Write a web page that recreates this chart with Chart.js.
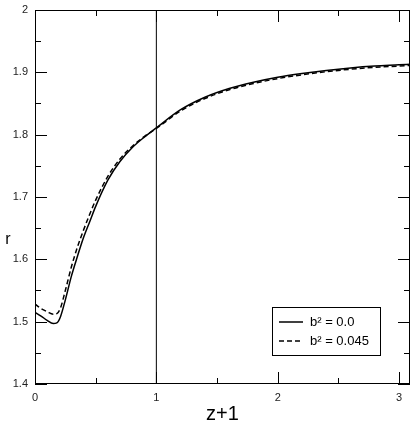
<!DOCTYPE html>
<html>
<head>
<meta charset="utf-8">
<script src="https://cdn.jsdelivr.net/npm/chart.js@4"></script>
<style>
  html, body { margin: 0; padding: 0; background: #fff; }
  #wrap { width: 414px; height: 427px; position: relative; }
</style>
</head>
<body>
<div id="wrap"><canvas id="rChart" width="414" height="427"></canvas></div>
<script>
const xVals = [0, 0.05, 0.1, 0.15, 0.18, 0.21, 0.25, 0.3, 0.35, 0.4, 0.45, 0.5, 0.6, 0.7, 0.8, 0.9, 1.0, 1.2, 1.4, 1.6, 1.8, 2.0, 2.2, 2.4, 2.6, 2.8, 3.0, 3.09];
const rSolid = [1.515, 1.509, 1.502, 1.497, 1.498, 1.508, 1.535, 1.573, 1.605, 1.635, 1.66, 1.685, 1.727, 1.757, 1.779, 1.796, 1.811, 1.840, 1.860, 1.874, 1.884, 1.892, 1.898, 1.903, 1.907, 1.910, 1.912, 1.913];
const rDashed = [1.528, 1.521, 1.516, 1.512, 1.513, 1.522, 1.55, 1.588, 1.62, 1.647, 1.672, 1.695, 1.733, 1.761, 1.781, 1.797, 1.810, 1.838, 1.858, 1.872, 1.882, 1.890, 1.896, 1.901, 1.905, 1.908, 1.910, 1.911];
const refLineX = [1];
const xTicks = [0, 1, 2, 3];
const xTickLabels = ["0", "1", "2", "3"];
const yTicks = [1.4, 1.5, 1.6, 1.7, 1.8, 1.9, 2.0];
const yTickLabels = ["1.4", "1.5", "1.6", "1.7", "1.8", "1.9", "2"];
const xMinor = [0.5, 1.5, 2.5];
const yMinor = [1.45, 1.55, 1.65, 1.75, 1.85, 1.95];
const seriesNames = ["b² = 0.0", "b² = 0.045"];

const font = "'Liberation Sans', Arial, sans-serif";

function toPoints(ys) {
  return xVals.map((x, i) => ({ x: x, y: ys[i] }));
}

// frame, inward ticks, axis titles and the boxed legend
const framePlugin = {
  id: "frame",
  afterDraw(chart) {
    const ctx = chart.ctx;
    const a = chart.chartArea;
    const xs = chart.scales.x, ys = chart.scales.y;
    ctx.save();
    ctx.strokeStyle = "#000";
    ctx.lineWidth = 1;
    ctx.strokeRect(a.left + 0.5, a.top + 0.5, a.right - a.left - 1, a.bottom - a.top - 1);

    ctx.beginPath();
    const tick = (vals, len) => {
      vals.forEach(v => {
        const px = Math.round(xs.getPixelForValue(v)) + 0.5;
        ctx.moveTo(px, a.bottom); ctx.lineTo(px, a.bottom - len);
        ctx.moveTo(px, a.top); ctx.lineTo(px, a.top + len);
      });
    };
    const ytick = (vals, len) => {
      vals.forEach(v => {
        const py = Math.round(ys.getPixelForValue(v)) + 0.5;
        ctx.moveTo(a.left, py); ctx.lineTo(a.left + len, py);
        ctx.moveTo(a.right, py); ctx.lineTo(a.right - len, py);
      });
    };
    tick(xTicks, 12);
    tick(xMinor, 6);
    ytick(yTicks, 12);
    ytick(yMinor, 6);
    ctx.stroke();

    // axis titles
    ctx.fillStyle = "#000";
    ctx.font = "20px " + font;
    ctx.textAlign = "center";
    ctx.textBaseline = "middle";
    ctx.fillText("z+1", (a.left + a.right) / 2, 414);
    ctx.font = "16px " + font;
    ctx.fillText("r", 8, 240);

    // legend
    const lx = 272.5, ly = 307.5, lw = 108, lh = 48;
    ctx.fillStyle = "#fff";
    ctx.fillRect(lx, ly, lw, lh);
    ctx.strokeRect(lx, ly, lw, lh);
    ctx.lineWidth = 1.5;
    ctx.beginPath();
    ctx.moveTo(279, 322); ctx.lineTo(303, 322);
    ctx.stroke();
    ctx.setLineDash([5, 3]);
    ctx.beginPath();
    ctx.moveTo(279, 341); ctx.lineTo(303, 341);
    ctx.stroke();
    ctx.setLineDash([]);
    ctx.fillStyle = "#000";
    ctx.font = "13px " + font;
    ctx.textAlign = "left";
    ctx.fillText(seriesNames[0], 310, 322);
    ctx.fillText(seriesNames[1], 310, 341);
    ctx.restore();
  }
};

new Chart(document.getElementById("rChart"), {
  type: "line",
  data: {
    datasets: [
      {
        data: toPoints(rSolid),
        borderColor: "#000",
        borderWidth: 1.5,
        pointRadius: 0,
        cubicInterpolationMode: "monotone"
      },
      {
        data: toPoints(rDashed),
        borderColor: "#000",
        borderWidth: 1.5,
        borderDash: [5, 3],
        pointRadius: 0,
        cubicInterpolationMode: "monotone"
      },
      {
        data: [{ x: refLineX[0], y: yTicks[0] }, { x: refLineX[0], y: yTicks[yTicks.length - 1] }],
        borderColor: "#000",
        borderWidth: 1,
        pointRadius: 0
      }
    ]
  },
  options: {
    responsive: false,
    animation: false,
    layout: { padding: { top: 10, right: 4, left: 0, bottom: 0 } },
    plugins: { legend: { display: false }, tooltip: { enabled: false } },
    scales: {
      x: {
        type: "linear",
        min: 0,
        max: 3.09,
        afterBuildTicks: s => { s.ticks = xTicks.map(v => ({ value: v })); },
        afterFit: s => { s.height = 43; s.paddingLeft = 0; s.paddingRight = 0; },
        grid: { display: false, drawTicks: false },
        border: { display: false },
        ticks: {
          padding: 7,
          color: "#222",
          font: { family: font, size: 11 },
          maxRotation: 0,
          callback: v => xTickLabels[xTicks.indexOf(v)]
        }
      },
      y: {
        min: 1.4,
        max: 2.0,
        afterBuildTicks: s => { s.ticks = yTicks.map(v => ({ value: v })); },
        afterFit: s => { s.width = 35; s.paddingTop = 0; s.paddingBottom = 0; },
        grid: { display: false, drawTicks: false },
        border: { display: false },
        ticks: {
          padding: 7,
          color: "#222",
          font: { family: font, size: 11 },
          callback: v => yTickLabels[yTicks.findIndex(t => Math.abs(t - v) < 1e-9)]
        }
      }
    }
  },
  plugins: [framePlugin]
});
</script>
</body>
</html>
